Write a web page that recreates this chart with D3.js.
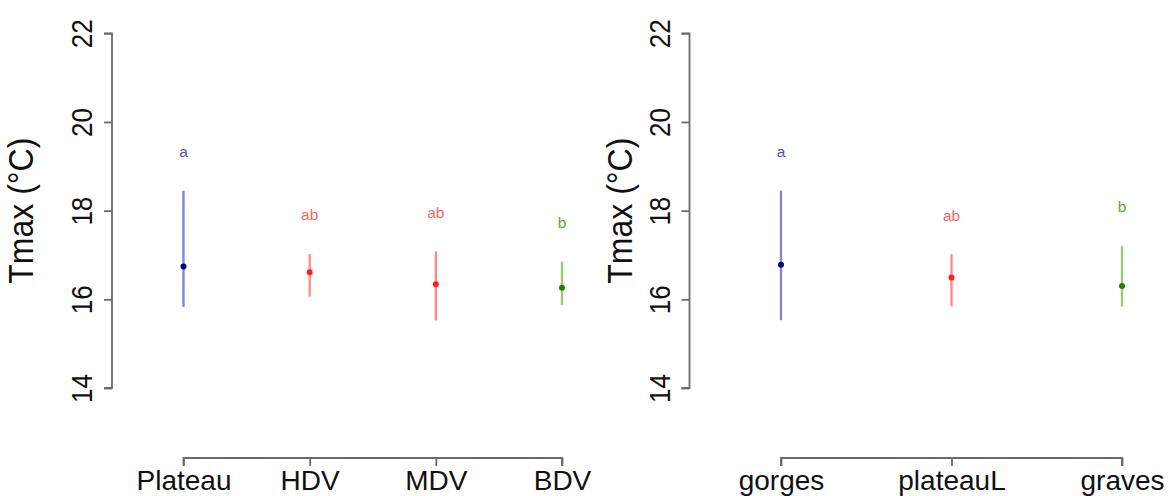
<!DOCTYPE html>
<html>
<head>
<meta charset="utf-8">
<script src="https://cdn.jsdelivr.net/npm/d3@7"></script>
<style>
  html, body { margin: 0; padding: 0; background: #fff; }
  svg { display: block; }
  text { font-family: "Liberation Sans", Arial, sans-serif; }
</style>
</head>
<body>
<svg id="chart" width="1168" height="496"></svg>
<script>
// ---- data ----
const yTicks = [14, 16, 18, 20, 22];
const yTitle = "Tmax (°C)";

const leftCategories = ["Plateau", "HDV", "MDV", "BDV"];
const leftMeans  = [16.74, 16.61, 16.34, 16.26];
const leftLower  = [15.83, 16.06, 15.52, 15.87];
const leftUpper  = [18.45, 17.02, 17.08, 16.85];
const leftLetters = ["a", "ab", "ab", "b"];
const leftLetterY = [19.22, 17.78, 17.83, 17.60];
const leftGroups  = ["blue", "red", "red", "green"];

const rightCategories = ["gorges", "plateauL", "graves"];
const rightMeans  = [16.78, 16.49, 16.30];
const rightLower  = [15.53, 15.84, 15.84];
const rightUpper  = [18.45, 17.02, 17.21];
const rightLetters = ["a", "ab", "b"];
const rightLetterY = [19.22, 17.77, 17.96];
const rightGroups  = ["blue", "red", "green"];

// ---- styles ----
const lineColor  = { blue: "#8282d0", red: "#ff8888", green: "#98ca76" };
const pointColor = { blue: "#000078", red: "#ff1f1f", green: "#2a7a0a" };
const textColor  = { blue: "#5555b0", red: "#ff6464", green: "#66a82c" };
const axisColor = "#6a6a6a";

const svg = d3.select("#chart");

function panel(cfg) {
  const g = svg.append("g");
  const y = d3.scaleLinear().domain([14, 22]).range([388, 33.3]);
  const x = d3.scalePoint().domain(cfg.categories).range([cfg.x0, cfg.x1]);

  // y axis
  const ya = g.append("g").attr("transform", `translate(${cfg.axisX},0)`)
    .call(d3.axisLeft(y).tickValues(yTicks).tickSize(8).tickFormat(d3.format("d")));
  ya.select(".domain").attr("d", `M-8,${y(14)}H0V${y(22)}H-8`)
    .attr("stroke", axisColor).attr("stroke-width", 1.8).attr("fill", "none");
  ya.selectAll(".tick line").attr("stroke", axisColor).attr("stroke-width", 1.8);
  ya.selectAll(".tick text")
    .attr("x", 0).attr("y", 0).attr("dy", null)
    .attr("text-anchor", "middle")
    .attr("transform", "translate(-20,0) rotate(-90) scale(1,1.15)")
    .attr("font-size", 26).attr("fill", "#111")
    .attr("font-family", "Liberation Sans, Arial, sans-serif");

  // y title
  g.append("text")
    .attr("transform", `translate(${cfg.titleX},${(y(14) + y(22)) / 2}) rotate(-90) scale(1,1.1)`)
    .attr("text-anchor", "middle")
    .attr("font-size", 32).attr("fill", "#111")
    .text(yTitle);

  // x axis
  const xa = g.append("g").attr("transform", `translate(0,458)`)
    .call(d3.axisBottom(x).tickSize(8).tickSizeOuter(0));
  xa.select(".domain").attr("d", `M${cfg.x0},8V0H${cfg.x1}V8`)
    .attr("stroke", axisColor).attr("stroke-width", 1.8).attr("fill", "none");
  xa.selectAll(".tick line").attr("stroke", axisColor).attr("stroke-width", 1.8);
  xa.selectAll(".tick text")
    .attr("y", 32).attr("dy", null)
    .attr("font-size", 28).attr("fill", "#111")
    .attr("font-family", "Liberation Sans, Arial, sans-serif");

  const data = cfg.categories.map((c, i) => ({
    c, m: cfg.means[i], lo: cfg.lower[i], hi: cfg.upper[i],
    letter: cfg.letters[i], ly: cfg.letterY[i], grp: cfg.groups[i]
  }));

  g.selectAll("line.err").data(data).enter().append("line")
    .attr("class", "err")
    .attr("x1", d => x(d.c)).attr("x2", d => x(d.c))
    .attr("y1", d => y(d.lo)).attr("y2", d => y(d.hi))
    .attr("stroke", d => lineColor[d.grp]).attr("stroke-width", 2.3);

  g.selectAll("circle.pt").data(data).enter().append("circle")
    .attr("class", "pt")
    .attr("cx", d => x(d.c)).attr("cy", d => y(d.m)).attr("r", 3)
    .attr("fill", d => pointColor[d.grp]);

  g.selectAll("text.letter").data(data).enter().append("text")
    .attr("class", "letter")
    .attr("x", d => x(d.c)).attr("y", d => y(d.ly))
    .attr("text-anchor", "middle")
    .attr("font-size", 15.5)
    .attr("fill", d => textColor[d.grp])
    .text(d => d.letter);
}

panel({
  categories: leftCategories, means: leftMeans, lower: leftLower, upper: leftUpper,
  letters: leftLetters, letterY: leftLetterY, groups: leftGroups,
  x0: 183.5, x1: 562, axisX: 112, titleX: 33
});
panel({
  categories: rightCategories, means: rightMeans, lower: rightLower, upper: rightUpper,
  letters: rightLetters, letterY: rightLetterY, groups: rightGroups,
  x0: 781, x1: 1122, axisX: 689.5, titleX: 632
});
</script>
</body>
</html>
